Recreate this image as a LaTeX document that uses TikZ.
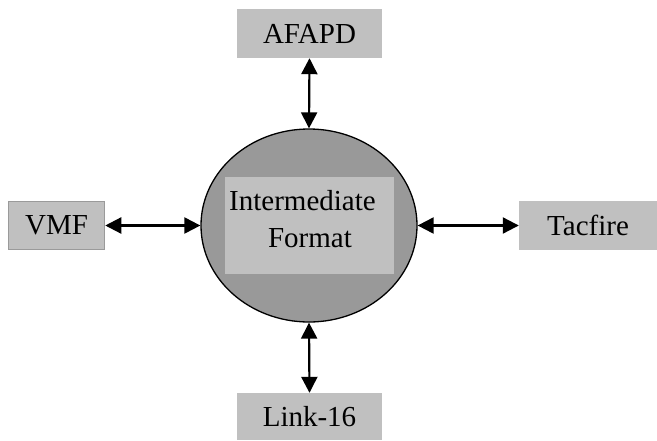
\documentclass[tikz,border=0pt]{standalone}
\usepackage{fontspec}
\setmainfont{Liberation Serif}
\usetikzlibrary{arrows.meta,shapes.geometric}
\definecolor{boxgray}{HTML}{C0C0C0}
\definecolor{ellgray}{HTML}{999999}
\definecolor{edgegray}{HTML}{9A9A9A}
\begin{document}
\begin{tikzpicture}[x=1pt,y=-1pt,
  sysbox/.style={fill=boxgray,draw=none,inner sep=0pt,font=\fontsize{29}{34}\selectfont},
  link/.style={line width=2.2pt,{Triangle[length=16pt,width=16pt]}-{Triangle[length=16pt,width=16pt]}},
  lbl/.style={inner sep=0pt,font=\fontsize{29}{34}\selectfont}]
\useasboundingbox (0,0) rectangle (657,440);
\node[ellipse,fill=ellgray,draw=black,line width=1.3pt,minimum width=216pt,minimum height=193pt,inner sep=0pt] (ie) at (309,225.5) {};
\node[fill=boxgray,inner sep=0pt,minimum width=169pt,minimum height=97pt] (inner) at (309.5,225.5) {};
\node[lbl,anchor=base west] (t1) at (229,210) {Intermediate};
\node[lbl,anchor=base] (t2) at (310,247) {Format};
\node[sysbox,minimum width=145pt,minimum height=49pt] (afapd) at (309.5,33.5) {AFAPD};
\node[sysbox,minimum width=145pt,minimum height=47pt] (link) at (309.5,416.5) {Link-16};
\node[sysbox,draw=edgegray,line width=1.5pt,minimum width=96pt,minimum height=48pt] (vmf) at (56.5,225.5) {VMF};
\node[sysbox,minimum width=138pt,minimum height=49pt] (tac) at (588,225.5) {Tacfire};
\draw[link] (afapd.south) -- (ie.north);
\draw[link] (ie.south) -- (link.north);
\draw[link] (vmf.east) -- (ie.west);
\draw[link] (ie.east) -- (tac.west);
\end{tikzpicture}
\end{document}
